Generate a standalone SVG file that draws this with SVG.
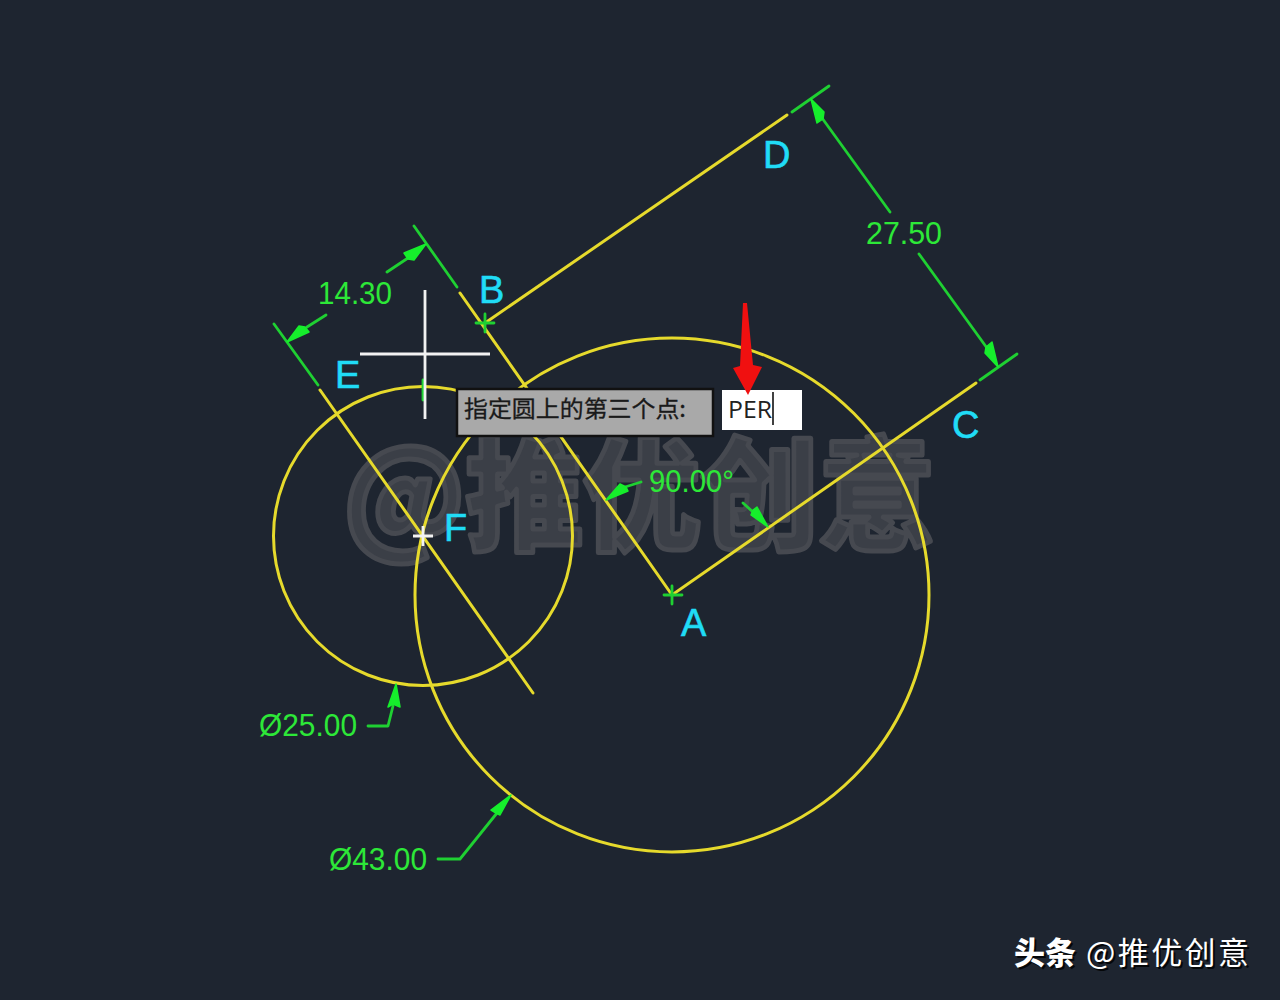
<svg xmlns="http://www.w3.org/2000/svg" width="1280" height="1000" viewBox="0 0 1280 1000">
<defs>
<style>
.y{fill:none;stroke:#e6da2c;stroke-width:3;stroke-linecap:round}
.g{fill:none;stroke:#1fd032;stroke-width:2.8;stroke-linecap:round;stroke-linejoin:round}
.h{fill:#16ee2c;stroke:#16ee2c;stroke-width:1.5;stroke-linejoin:round}
.w{fill:none;stroke:#f2f2f2;stroke-width:2.8}
.l{font-family:"Liberation Sans",Arial,sans-serif;font-size:38px;fill:#20dcf6;stroke:#20dcf6;stroke-width:.6}
.d{font-family:"Liberation Sans",Arial,sans-serif;font-size:32px;fill:#2de838}
.cjk{font-family:"Noto Sans CJK SC","Liberation Sans",sans-serif}
</style>
</defs>
<rect width="1280" height="1000" fill="#1e2530"/>
<g id="watermark"><text class="cjk" x="343" y="540" font-size="122" font-weight="900" fill="#3b3f47" stroke="#464950" stroke-width="5" stroke-linejoin="round" textLength="593" lengthAdjust="spacingAndGlyphs">@推优创意</text></g>
<g id="connectors">
<circle class="y" cx="672" cy="595" r="257"/>
<circle class="y" cx="423" cy="536" r="149.5"/>
<path class="y" d="M460 293L672 595L976 383M485 323L787 115M320 390L533 693"/>
<path class="g" d="M414 226L457 287M274 324L318 385M792 112L829 86M980 380L1017 354"/>
<path class="g" d="M408 258L387 272M307 327L326 315M822 118L890 212M919 254L987 348M625 487L641 482M753 512L743 503"/>
<path class="g" d="M368 726H388L393 706M438 859H460L497 813"/>
<path class="h" d="M426 244L414 260L408 259L404 253ZM287 342L299 326L305 327L309 332ZM811 99L824 112L823 119L817 123ZM998 367L985 353L986 347L992 342ZM606 500L620 484L626 487L628 491ZM768 527L751 515L753 510L757 507ZM396 684L400 707L393 704L388 707ZM511 795L500 815L496 813L491 810Z"/>
<path class="g" d="M664 595H682M672 586V604M476 323H494M485 314V332M423 380V400"/>
</g>
<g id="cursor"><path class="w" d="M425 290V419M360 354H490"/></g>
<g id="node-f"><path class="w" d="M413 536H433M423 526V546"/><text class="l" x="444" y="541">F</text></g>
<g id="node-a"><text class="l" x="681" y="636">A</text></g>
<g id="node-b"><text class="l" x="479" y="303">B</text></g>
<g id="node-c"><text class="l" x="952" y="438">C</text></g>
<g id="node-d"><text class="l" x="763" y="168">D</text></g>
<g id="node-e"><text class="l" x="335" y="388">E</text></g>
<g id="dimensions">
<text class="d" x="318" y="304" textLength="74" lengthAdjust="spacingAndGlyphs">14.30</text>
<text class="d" x="866" y="244" textLength="76" lengthAdjust="spacingAndGlyphs">27.50</text>
<text class="d" x="649" y="492" textLength="85" lengthAdjust="spacingAndGlyphs">90.00°</text>
<text class="d" x="259" y="736" textLength="98" lengthAdjust="spacingAndGlyphs">Ø25.00</text>
<text class="d" x="329" y="870" textLength="98" lengthAdjust="spacingAndGlyphs">Ø43.00</text>
</g>
<g id="tooltip">
<rect x="457" y="389" width="256" height="47" fill="#a9a9a9" stroke="#111" stroke-width="2.5"/>
<text class="cjk" x="464" y="417" font-size="23" fill="#1a1a1a" stroke="#1a1a1a" stroke-width=".3" textLength="222" lengthAdjust="spacingAndGlyphs">指定圆上的第三个点:</text>
</g>
<g id="input">
<rect x="722" y="390" width="80" height="40" fill="#fff"/>
<text x="728" y="418" font-family="'Open Sans',sans-serif" font-size="24" fill="#222" textLength="44" lengthAdjust="spacingAndGlyphs">PER</text>
<path d="M773 392V425" stroke="#111" stroke-width="1.6"/>
</g>
<g id="red-arrow"><path d="M743 303L747 303L753 365L762 367L748 395L733 368L740 366Z" fill="#f01010"/></g>
<g id="credit">
<text class="cjk" x="1016" y="966" font-size="31" fill="#000" opacity=".8" font-weight="900">头条</text>
<text class="cjk" x="1014" y="964" font-size="31" fill="#fff" font-weight="900">头条</text>
<text class="cjk" x="1088" y="966" font-size="31" fill="#000" opacity=".8" textLength="163">@推优创意</text>
<text class="cjk" x="1086" y="964" font-size="31" fill="#fff" textLength="163">@推优创意</text>
</g>
</svg>
